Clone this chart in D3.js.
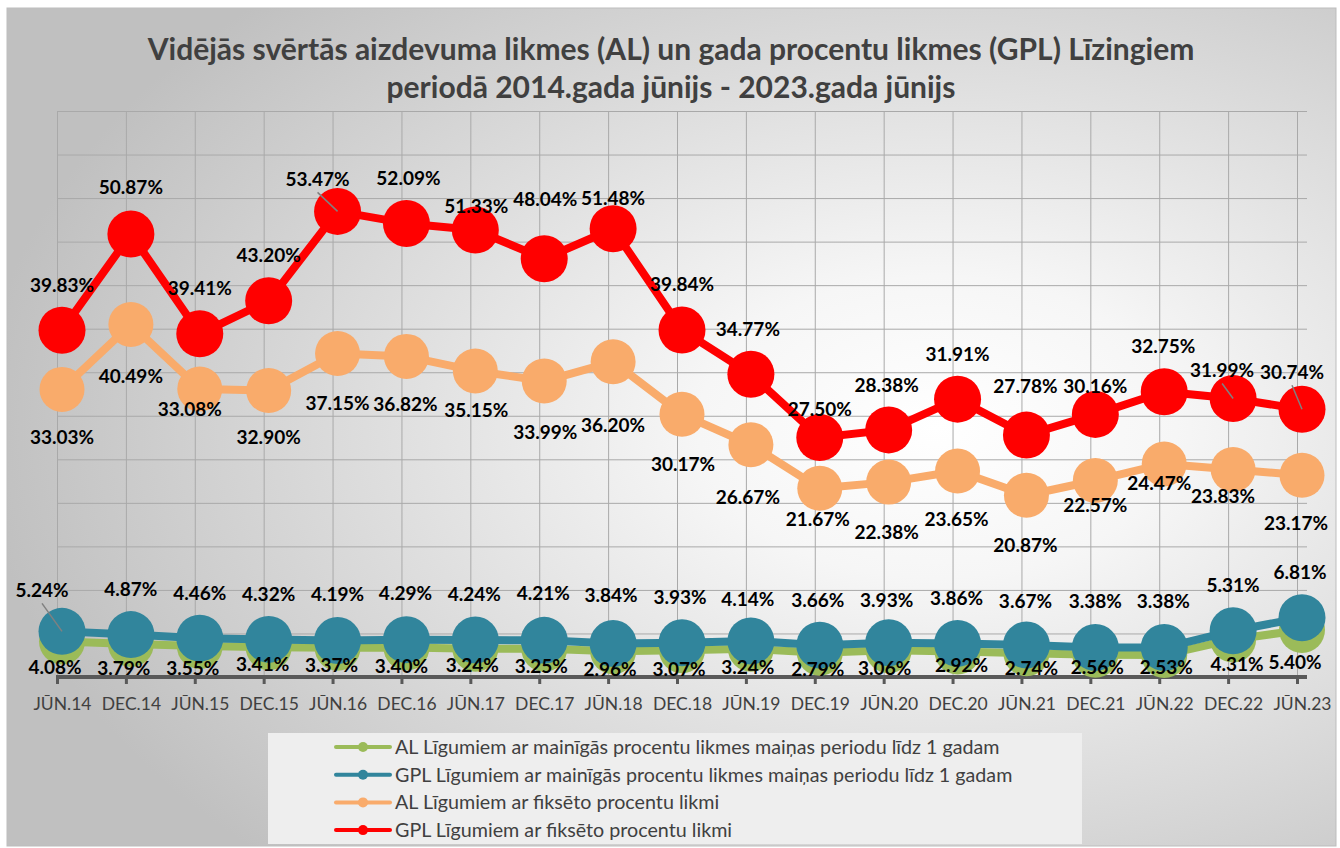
<!DOCTYPE html>
<html>
<head>
<meta charset="utf-8">
<script src="https://cdn.jsdelivr.net/npm/d3@7"></script>
<style>
  body { margin: 0; background: #fff; }
  svg { display: block; }
  text { font-family: Lato, "Open Sans", sans-serif; }
</style>
</head>
<body>
<svg id="chart" width="1340" height="848"></svg>
<script>
// data
const categories = ['JŪN.14', 'DEC.14', 'JŪN.15', 'DEC.15', 'JŪN.16', 'DEC.16', 'JŪN.17', 'DEC.17', 'JŪN.18', 'DEC.18',
  'JŪN.19', 'DEC.19', 'JŪN.20', 'DEC.20', 'JŪN.21', 'DEC.21', 'JŪN.22', 'DEC.22', 'JŪN.23'];

const alVariable = [4.08, 3.79, 3.55, 3.41, 3.37, 3.40, 3.24, 3.25, 2.96, 3.07, 3.24, 2.79, 3.06, 2.92, 2.74, 2.56, 2.53, 4.31, 5.40];
const gplVariable = [5.24, 4.87, 4.46, 4.32, 4.19, 4.29, 4.24, 4.21, 3.84, 3.93, 4.14, 3.66, 3.93, 3.86, 3.67, 3.38, 3.38, 5.31, 6.81];
const alFixed = [33.03, 40.49, 33.08, 32.90, 37.15, 36.82, 35.15, 33.99, 36.20, 30.17, 26.67, 21.67, 22.38, 23.65, 20.87, 22.57, 24.47, 23.83, 23.17];
const gplFixed = [39.83, 50.87, 39.41, 43.20, 53.47, 52.09, 51.33, 48.04, 51.48, 39.84, 34.77, 27.50, 28.38, 31.91, 27.78, 30.16, 32.75, 31.99, 30.74];

const seriesNames = [
  'AL Līgumiem ar mainīgās procentu likmes maiņas periodu līdz 1 gadam',
  'GPL Līgumiem ar mainīgās procentu likmes maiņas periodu līdz 1 gadam',
  'AL Līgumiem ar fiksēto procentu likmi',
  'GPL Līgumiem ar fiksēto procentu likmi'
];

const titleLines = ['Vidējās svērtās aizdevuma likmes (AL) un gada procentu likmes (GPL) Līzingiem',
  'periodā 2014.gada jūnijs - 2023.gada jūnijs'];

// where each data label sits relative to its marker (dx, dy in px), like the hand-placed labels in the original
const alVariableLabelPos = [[-7,26],[-7,24],[-7,22],[-6,17],[-6,18],[-5,19],[-3,16],[-3,17],[-3,18],[-3,19],[-3,18],[-2,16],[-4,18],[4,14],[5,15],[2,12],[2,12],[4,25],[-7,32]];
const gplVariableLabelPos = [[-20,-41],[0,-45],[0,-45],[0,-45],[0,-46],[-1,-46],[-1,-46],[-1,-47],[-2,-48],[-2,-46],[-3,-42],[-2,-45],[-2,-43],[-1,-45],[-1,-44],[0,-46],[-1,-46],[0,-46],[-2,-46]];
const alFixedLabelPos = [[0,48],[0,52],[-10,20],[0,47],[0,50],[-1,48],[1,39],[1,51],[0,63],[1,50],[-3,52],[-2,31],[-2,50],[-1,48],[-1,50],[0,25],[-5,19],[-10,27],[-6,48]];
const gplFixedLabelPos = [[0,-45],[0,-47],[0,-46],[0,-46],[-20,-32],[2,-45],[1,-24],[1,-60],[0,-31],[0,-46],[-3,-45],[0,-28],[-2,-45],[0,-45],[-1,-49],[0,-28],[-1,-46],[-11,-28],[-10,-37]];

const series = [
  { name: seriesNames[0], values: alVariable, color: '#9bbb59', r: 23, labelPos: alVariableLabelPos, leaders: [] },
  { name: seriesNames[1], values: gplVariable, color: '#31859c', r: 23.5, labelPos: gplVariableLabelPos, leaders: [0] },
  { name: seriesNames[2], values: alFixed, color: '#f9ab6b', r: 22.5, labelPos: alFixedLabelPos, leaders: [] },
  { name: seriesNames[3], values: gplFixed, color: '#ff0000', r: 23.5, labelPos: gplFixedLabelPos, leaders: [4, 17, 18] }
];

const svg = d3.select('#chart');
const width = +svg.attr('width');
const height = +svg.attr('height');

// background gradient, light in the middle, grey towards the edges
const defs = svg.append('defs');
const grad = defs.append('radialGradient')
  .attr('id', 'bg')
  .attr('cx', 0.7).attr('cy', 0.5).attr('r', 0.72)
  .attr('fx', 0.7).attr('fy', 0.5);
grad.append('stop').attr('offset', 0).attr('stop-color', '#ffffff');
grad.append('stop').attr('offset', 0.25).attr('stop-color', '#f6f6f6');
grad.append('stop').attr('offset', 1).attr('stop-color', '#c0c0c0');

svg.append('rect')
  .attr('x', 7).attr('y', 8)
  .attr('width', 1329).attr('height', 838)
  .attr('fill', 'url(#bg)')
  .attr('stroke', '#bdbdbd')
  .attr('stroke-width', 1);

// title
svg.append('g').selectAll('text').data(titleLines).join('text')
  .attr('x', 671)
  .attr('y', (d, i) => 60 + i * 38)
  .attr('text-anchor', 'middle')
  .attr('font-size', 30)
  .attr('font-weight', 'bold')
  .attr('fill', '#404040')
  .text(d => d);

const plot = { left: 57, right: 1307, top: 111, bottom: 677 };

const xScale = d3.scalePoint()
  .domain(categories)
  .range([62, 1302]);

const yScale = d3.scaleLinear()
  .domain([0, 65])
  .range([plot.bottom, plot.top]);

//gridlines - the vertical ones sit 5px left of the points, same as the original
const grid = svg.append('g').attr('class', 'grid')
  .attr('stroke', '#a9a9a9')
  .attr('stroke-width', 1);

grid.selectAll('.h').data(d3.range(5, 70, 5)).join('line')
  .attr('class', 'h')
  .attr('x1', plot.left).attr('x2', plot.right)
  .attr('y1', d => yScale(d) + 0.5).attr('y2', d => yScale(d) + 0.5);

grid.selectAll('.v').data(categories).join('line')
  .attr('class', 'v')
  .attr('x1', d => xScale(d) - 5 + 0.5).attr('x2', d => xScale(d) - 5 + 0.5)
  .attr('y1', plot.top).attr('y2', plot.bottom);

// x axis
const xAxis = d3.axisBottom(xScale)
  .tickSizeInner(7)
  .tickSizeOuter(0)
  .tickPadding(14);

const xAxisG = svg.append('g')
  .attr('class', 'x-axis')
  .attr('transform', `translate(0,${plot.bottom})`)
  .call(xAxis);

xAxisG.select('.domain').remove();
xAxisG.selectAll('.tick line')
  .attr('x1', -5).attr('x2', -5)
  .attr('stroke', '#595959')
  .attr('stroke-width', 3);
xAxisG.selectAll('.tick text')
  .attr('fill', '#404040')
  .attr('font-size', 17.5)
  .attr('font-family', 'Lato, "Open Sans", sans-serif');

xAxisG.append('line')
  .attr('x1', plot.left - 1).attr('x2', plot.right)
  .attr('y1', 0).attr('y2', 0)
  .attr('stroke', '#595959')
  .attr('stroke-width', 4);

// lines + markers
const line = d3.line()
  .x((d, i) => xScale(categories[i]))
  .y(d => yScale(d));

const seriesG = svg.append('g').selectAll('g').data(series).join('g');

seriesG.append('path')
  .attr('d', d => line(d.values))
  .attr('fill', 'none')
  .attr('stroke', d => d.color)
  .attr('stroke-width', 8)
  .attr('stroke-linejoin', 'round');

seriesG.selectAll('circle').data(d => d.values.map((v, i) => ({ v, i, s: d }))).join('circle')
  .attr('cx', d => xScale(categories[d.i]))
  .attr('cy', d => yScale(d.v))
  .attr('r', d => d.s.r)
  .attr('fill', d => d.s.color);

// leader lines for labels that were dragged away from their point
const leaders = series.flatMap(s => s.leaders.map(i => ({ s, i })));
svg.append('g').selectAll('line').data(leaders).join('line')
  .attr('x1', d => xScale(categories[d.i]) + d.s.labelPos[d.i][0])
  .attr('y1', d => yScale(d.s.values[d.i]) + d.s.labelPos[d.i][1] + 13)
  .attr('x2', d => xScale(categories[d.i]))
  .attr('y2', d => yScale(d.s.values[d.i]))
  .attr('stroke', '#808080')
  .attr('stroke-width', 1.5);

// data labels
const labelData = series.flatMap(s => s.values.map((v, i) => ({ v, i, s })));
svg.append('g').selectAll('text').data(labelData).join('text')
  .attr('x', d => xScale(categories[d.i]) + d.s.labelPos[d.i][0])
  .attr('y', d => yScale(d.v) + d.s.labelPos[d.i][1])
  .attr('dy', '0.36em')
  .attr('text-anchor', 'middle')
  .attr('font-size', 19)
  .attr('font-weight', 'bold')
  .attr('fill', '#000')
  .text(d => d.v.toFixed(2) + '%');

// legend
const legend = svg.append('g').attr('class', 'legend');
legend.append('rect')
  .attr('x', 268).attr('y', 733)
  .attr('width', 814).attr('height', 111)
  .attr('fill', '#eeeeee');

const legendItem = legend.selectAll('g').data(series).join('g')
  .attr('transform', (d, i) => `translate(0,${747 + i * 27.7})`);

legendItem.append('line')
  .attr('x1', 336).attr('x2', 390)
  .attr('stroke', d => d.color)
  .attr('stroke-width', 4)
  .attr('stroke-linecap', 'round');

legendItem.append('circle')
  .attr('cx', 363).attr('r', 5)
  .attr('fill', d => d.color);

legendItem.append('text')
  .attr('x', 395)
  .attr('dy', '0.35em')
  .attr('font-size', 19.7)
  .attr('fill', '#404040')
  .text(d => d.name);
</script>
</body>
</html>
